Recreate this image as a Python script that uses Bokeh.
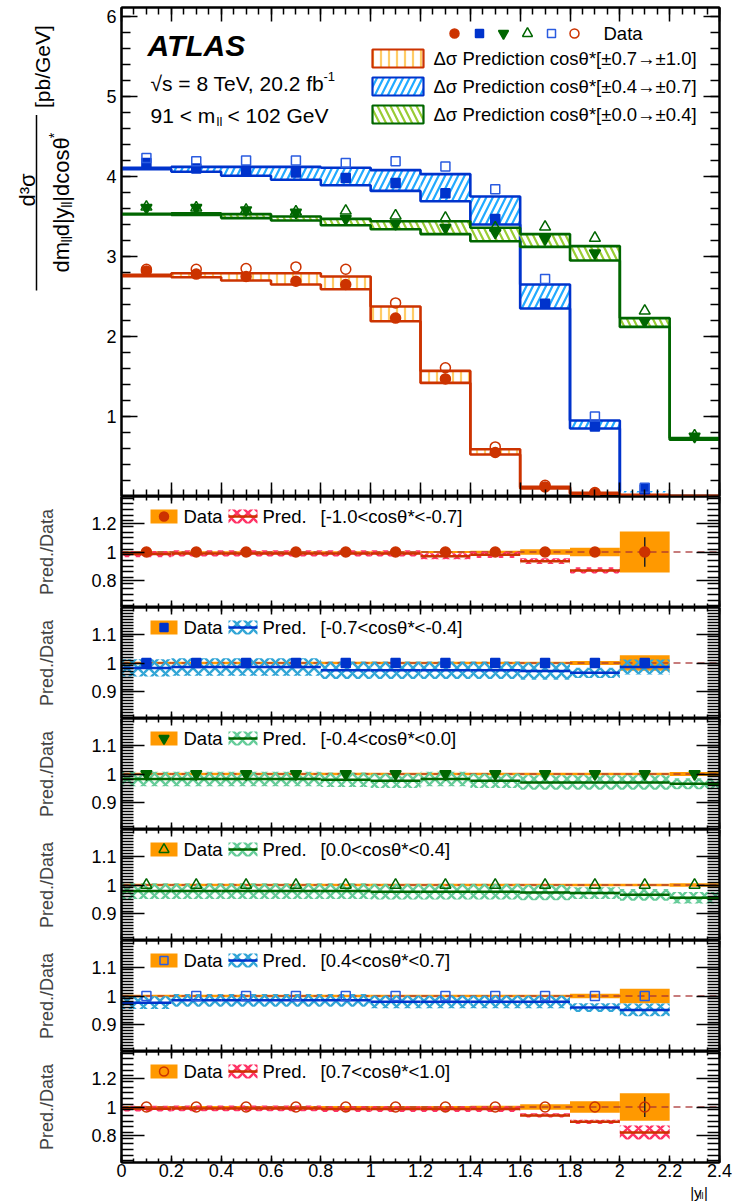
import numpy as np
from math import pi
from bokeh.plotting import figure
from bokeh.layouts import column, row
from bokeh.models import (Range1d, LinearAxis, FixedTicker, NumeralTickFormatter, Label,
                          CustomLabelingPolicy)
from bokeh.embed import file_html
from bokeh.resources import INLINE

FONT = "Liberation Sans"
nan = float("nan")

# ---------------- data ----------------
bin_edges = [0.0, 0.2, 0.4, 0.6, 0.8, 1.0, 1.2, 1.4, 1.6, 1.8, 2.0, 2.2, 2.4]

# main panel: Delta-sigma prediction bands (low / high)
pred_07_10_lo = [2.755, 2.74, 2.70, 2.65, 2.59, 2.19, 1.42, 0.525, 0.10, 0.035, 0.015, 0.005]
pred_07_10_hi = [2.77, 2.79, 2.79, 2.79, 2.75, 2.375, 1.57, 0.59, 0.12, 0.045, 0.02, 0.007]
pred_04_07_lo = [4.09, 4.06, 4.01, 3.96, 3.89, 3.82, 3.69, 3.40, 2.35, 0.85, 0.05, nan]
pred_04_07_hi = [4.11, 4.12, 4.12, 4.12, 4.11, 4.08, 4.03, 3.75, 2.65, 0.95, 0.07, nan]
pred_00_04_lo = [3.525, 3.52, 3.48, 3.45, 3.39, 3.34, 3.28, 3.19, 3.12, 2.95, 2.12, 0.71]
pred_00_04_hi = [3.535, 3.54, 3.53, 3.50, 3.47, 3.44, 3.44, 3.36, 3.28, 3.13, 2.23, 0.73]

# main panel: data points
data_m10_m07 = [2.82, 2.78, 2.75, 2.69, 2.65, 2.23, 1.47, 0.55, 0.12, 0.04, 0.015, nan]
data_07_10 = [2.84, 2.84, 2.85, 2.87, 2.84, 2.42, 1.61, 0.62, 0.14, 0.05, 0.02, nan]
data_m07_m04 = [4.17, 4.10, 4.075, 4.05, 3.98, 3.92, 3.79, 3.47, 2.41, 0.875, 0.09, nan]
data_04_07 = [4.23, 4.19, 4.20, 4.20, 4.17, 4.19, 4.125, 3.84, 2.72, 1.00, 0.11, nan]
data_m04_00 = [3.61, 3.61, 3.58, 3.55, 3.47, 3.41, 3.36, 3.30, 3.22, 3.04, 2.19, 0.75]
data_00_04 = [3.62, 3.61, 3.58, 3.56, 3.57, 3.51, 3.48, 3.36, 3.37, 3.23, 2.32, 0.76]

# ratio panels
ratio_labels = ["[-1.0<cos\u03b8*<-0.7]", "[-0.7<cos\u03b8*<-0.4]", "[-0.4<cos\u03b8*<0.0]",
                "[0.0<cos\u03b8*<0.4]", "[0.4<cos\u03b8*<0.7]", "[0.7<cos\u03b8*<1.0]"]
ratio_pred_1 = [0.985, 0.99, 0.99, 0.99, 0.99, 0.99, 0.97, 0.98, 0.935, 0.87, nan, nan]
ratio_pred_2 = [0.983, 0.986, 0.986, 0.986, 0.975, 0.975, 0.975, 0.975, 0.972, 0.966, 0.986, nan]
ratio_pred_3 = [0.983, 0.983, 0.983, 0.983, 0.98, 0.977, 0.983, 0.977, 0.971, 0.971, 0.971, 0.966]
ratio_pred_4 = [0.979, 0.979, 0.979, 0.979, 0.979, 0.977, 0.977, 0.977, 0.974, 0.972, 0.966, 0.956]
ratio_pred_5 = [0.977, 0.985, 0.985, 0.985, 0.985, 0.98, 0.98, 0.98, 0.98, 0.96, 0.952, nan]
ratio_pred_6 = [0.988, 0.99, 0.99, 0.99, 0.985, 0.985, 0.985, 0.985, 0.94, 0.895, 0.82, nan]
ratio_pred_unc_1 = [0.022, 0.022, 0.022, 0.022, 0.022, 0.022, 0.022, 0.022, 0.02, 0.022, nan, nan]
ratio_pred_unc_2 = [0.03, 0.03, 0.03, 0.03, 0.03, 0.03, 0.03, 0.03, 0.03, 0.018, 0.026, nan]
ratio_pred_unc_3 = [0.025, 0.025, 0.025, 0.025, 0.025, 0.025, 0.025, 0.025, 0.025, 0.025, 0.025, 0.019]
ratio_pred_unc_4 = [0.027, 0.027, 0.027, 0.027, 0.027, 0.027, 0.027, 0.027, 0.027, 0.02, 0.02, 0.02]
ratio_pred_unc_5 = [0.022, 0.022, 0.022, 0.022, 0.022, 0.022, 0.022, 0.022, 0.022, 0.015, 0.022, nan]
ratio_pred_unc_6 = [0.02, 0.02, 0.02, 0.02, 0.02, 0.02, 0.02, 0.02, 0.015, 0.015, 0.05, nan]
ratio_data_unc_1 = [0.006, 0.006, 0.006, 0.006, 0.006, 0.006, 0.007, 0.008, 0.02, 0.03, 0.145, nan]
ratio_data_unc_2 = [0.004, 0.004, 0.004, 0.004, 0.004, 0.004, 0.004, 0.004, 0.004, 0.007, 0.027, nan]
ratio_data_unc_3 = [0.004, 0.004, 0.004, 0.004, 0.004, 0.004, 0.004, 0.004, 0.004, 0.004, 0.004, 0.007]
ratio_data_unc_4 = [0.004, 0.004, 0.004, 0.004, 0.004, 0.004, 0.004, 0.004, 0.004, 0.004, 0.004, 0.006]
ratio_data_unc_5 = [0.004, 0.004, 0.004, 0.004, 0.004, 0.004, 0.004, 0.004, 0.004, 0.008, 0.025, nan]
ratio_data_unc_6 = [0.007, 0.007, 0.007, 0.007, 0.007, 0.007, 0.007, 0.008, 0.02, 0.04, 0.097, nan]
ratio_stat_1 = [0, 0, 0, 0, 0, 0, 0, 0, 0, 0, 0.105, nan]
ratio_stat_6 = [0, 0, 0, 0, 0, 0, 0, 0, 0, 0, 0.07, nan]

# ticks
x_ticks = [0, 0.2, 0.4, 0.6, 0.8, 1.0, 1.2, 1.4, 1.6, 1.8, 2.0, 2.2, 2.4]
main_y_ticks = [1, 2, 3, 4, 5, 6]
ratio_y_ticks_wide = [0.8, 1.0, 1.2]
ratio_y_ticks_narrow = [0.9, 1.0, 1.1]

# ---------------- colours ----------------
C_RED = "#cc3300"
C_BLUE = "#0033cc"
C_BLUE_OPEN = "#2a5be0"
C_GREEN = "#006600"
C_ORANGE = "#ff9900"
H_ORANGE = "#ffcc66"
H_BLUE = "#22aaff"
H_GREEN = "#99cc33"
X_RED = "#ff3366"
X_BLUE = "#33a6d6"
X_GREEN = "#66cc99"

# ---------------- layout (page pixels) ----------------
PAGE_W = 734
FRAME_L, FRAME_R = 121, 719
FW = FRAME_R - FRAME_L
TITLE_W = 80
MAIN_TOP, MAIN_BOT = 7, 496
PANEL_H = 111
BOTTOM_AXIS = 21
STRIP_H = 19
MAIN_YR = (0.0, (MAIN_BOT - MAIN_TOP) / 80.0)
WIDE_YR = (0.608, 1.392)
NARROW_YR = (0.8085, 1.1915)

left = np.array(bin_edges[:-1])
right = np.array(bin_edges[1:])
centers = (left + right) / 2
x_minor = [round(v, 3) for v in np.arange(0, 2.4001, 0.05)]

NO_LABELS = CustomLabelingPolicy(code="""
for (const i of Array.from(indices)) {
  if (typeof indices.unset === "function") { indices.unset(i) } else { indices.set(i, false) }
}
return indices
""")


def fx(px):
    return (px - FRAME_L) / FW * 2.4


def make_fy(top, h, yr):
    return lambda py: yr[1] - (py - top) / h * (yr[1] - yr[0])


def make_fig(width, height, yr, bl, bt, bb):
    p = figure(width=width, height=height, x_range=Range1d(0, 2.4), y_range=Range1d(*yr),
               x_axis_type=None, y_axis_type=None, output_backend="svg", toolbar_location=None,
               min_border_left=bl, min_border_right=PAGE_W - FRAME_R, min_border_top=bt,
               min_border_bottom=bb)
    p.outline_line_color = "black"
    p.outline_line_width = 2
    p.background_fill_color = "white"
    p.border_fill_color = "white"
    return p


def add_axes(p, yticks, yminor, xmaj, xmin, ymaj, ymin, xlabels, ylabel=None):
    for side, ticks, minor, maj, mn, lab in [
            ("below", x_ticks, x_minor, xmaj, xmin, xlabels),
            ("above", x_ticks, x_minor, xmaj, xmin, False),
            ("left", yticks, yminor, ymaj, ymin, True),
            ("right", yticks, yminor, ymaj, ymin, False)]:
        ax = LinearAxis(ticker=FixedTicker(ticks=ticks, minor_ticks=minor),
                        formatter=NumeralTickFormatter(format="0.[0]"))
        ax.axis_line_width = 2
        ax.axis_line_color = "black"
        ax.major_tick_in = maj
        ax.major_tick_out = 0
        ax.minor_tick_in = mn
        ax.minor_tick_out = 0
        ax.major_tick_line_width = 1.5
        ax.minor_tick_line_width = 1.5
        if lab:
            ax.major_label_text_font = FONT
            ax.major_label_text_font_size = "18px"
            ax.major_label_text_color = "black"
            ax.major_label_standoff = 5 if side == "left" else 1
        else:
            ax.major_label_text_font_size = "0px"
            ax.major_label_standoff = 0
            ax.major_label_policy = NO_LABELS
        if side == "left" and ylabel:
            ax.axis_label = ylabel
            ax.axis_label_text_font = FONT
            ax.axis_label_text_font_size = "18px"
            ax.axis_label_text_font_style = "normal"
            ax.axis_label_standoff = 31
        p.add_layout(ax, side)


def text(p, x, y, t, size, align="left", baseline="middle", style="normal", color="black", angle=0):
    p.add_layout(Label(x=x, y=y, text=t, text_font=FONT, text_font_size=size, text_align=align,
                       text_baseline=baseline, text_font_style=style, text_color=color, angle=angle))


def blank_fig(width, height, x0, x1, ytop, ybot):
    f = figure(width=width, height=height, x_range=Range1d(x0, x1), y_range=Range1d(ybot, ytop),
               x_axis_type=None, y_axis_type=None, output_backend="svg", toolbar_location=None,
               min_border=0)
    f.outline_line_color = None
    f.background_fill_color = "white"
    f.border_fill_color = "white"
    return f


# ---------------- y-title (page pixel coordinates) ----------------
pt = blank_fig(TITLE_W, MAIN_BOT, 0, TITLE_W, 0, MAIN_BOT)
text(pt, 27, 185, "d\u00b3\u03c3", "22px", align="center", baseline="alphabetic", angle=pi / 2)
pt.segment(x0=[36], y0=[109], x1=[36], y1=[287], line_color="black", line_width=1.5)
den_parts = [("dm", 22, 0, 1.389), ("ll", 14, 5, 0.444), ("d|y", 22, 0, 1.316),
             ("ll", 14, 5, 0.444), ("|dcos\u03b8", 22, 0, 2.928), ("*", 14, -8, 0.389)]
den_len = sum(s * w for _, s, _, w in den_parts)
ypos = 198 + den_len / 2
for t, s, dx, wem in den_parts:
    text(pt, 61 + dx, ypos, t, "%dpx" % s, align="left", baseline="alphabetic", angle=pi / 2)
    ypos -= s * wem
text(pt, 42, 102, "[pb/GeV]", "21px", align="left", baseline="alphabetic", angle=pi / 2)

# ---------------- main panel ----------------
pm = make_fig(PAGE_W - TITLE_W, MAIN_BOT, MAIN_YR, FRAME_L - TITLE_W, MAIN_TOP, 0)
fy = make_fy(MAIN_TOP, MAIN_BOT - MAIN_TOP, MAIN_YR)
main_minor = [round(v, 3) for v in np.arange(0, 6.1, 0.2)]
add_axes(pm, main_y_ticks, main_minor, 14, 7, 16, 9, False)

bands = [(pred_07_10_lo, pred_07_10_hi, C_RED, H_ORANGE, "|", 8),
         (pred_04_07_lo, pred_04_07_hi, C_BLUE, H_BLUE, "/", 13),
         (pred_00_04_lo, pred_00_04_hi, C_GREEN, H_GREEN, "\\", 13)]
for lo, hi, lc, hc, pat, sc in bands:
    lo_a, hi_a = np.array(lo), np.array(hi)
    pm.quad(left=left, right=right, bottom=lo_a, top=hi_a, fill_color=None, line_color=None,
            hatch_pattern=pat, hatch_color=hc, hatch_scale=sc, hatch_weight=2.2)
    for arr in (lo_a, hi_a):
        pm.step(x=bin_edges, y=list(arr) + [arr[-1]], mode="after", line_color=lc, line_width=2.6)

markers = [(data_m10_m07, "circle", C_RED, True, 10),
           (data_07_10, "circle", C_RED, False, 10),
           (data_m07_m04, "square", C_BLUE, True, 9),
           (data_04_07, "square", C_BLUE_OPEN, False, 9),
           (data_m04_00, "inverted_triangle", C_GREEN, True, 11),
           (data_00_04, "triangle", C_GREEN, False, 11)]
for vals, mk, col, filled, sz in markers:
    pm.scatter(x=centers, y=np.array(vals), marker=mk, size=sz, line_color=col, line_width=1.5,
               fill_color=col if filled else None)

# legend (main)
leg_mk_x = [454, 479, 503, 527, 551, 574]
order = [0, 2, 4, 5, 3, 1]
for i, px in zip(order, leg_mk_x):
    vals, mk, col, filled, sz = markers[i]
    pm.scatter(x=[fx(px)], y=[fy(33)], marker=mk, size=sz - 1, line_color=col, line_width=1.5,
               fill_color=col if filled else None)
text(pm, fx(603), fy(33), "Data", "18.5px")
leg_rows = [58, 86, 114]
leg_txt = ["\u0394\u03c3 Prediction cos\u03b8*[\u00b10.7\u2192\u00b11.0]",
           "\u0394\u03c3 Prediction cos\u03b8*[\u00b10.4\u2192\u00b10.7]",
           "\u0394\u03c3 Prediction cos\u03b8*[\u00b10.0\u2192\u00b10.4]"]
for (lo, hi, lc, hc, pat, sc), yc, t in zip(bands, leg_rows, leg_txt):
    pm.quad(left=[fx(372)], right=[fx(423)], bottom=[fy(yc + 9)], top=[fy(yc - 9)], fill_color=None,
            line_color=lc, line_width=2.2, hatch_pattern=pat, hatch_color=hc, hatch_scale=sc,
            hatch_weight=2.2)
    text(pm, fx(433), fy(yc), t, "18.5px")

text(pm, fx(147), fy(45), "ATLAS", "30px", style="bold italic")
text(pm, fx(150), fy(83), "\u221as = 8 TeV, 20.2 fb", "21px")
text(pm, fx(323), fy(76), "-1", "13px")
text(pm, fx(150), fy(115), "91 < m", "21px")
text(pm, fx(216), fy(121), "ll", "13px")
text(pm, fx(227), fy(115), "< 102 GeV", "21px")

figs = [row(pt, pm, spacing=0)]

# ---------------- ratio panels ----------------
ratio_sets = [
    (ratio_pred_1, ratio_pred_unc_1, ratio_data_unc_1, ratio_stat_1, 0, C_RED, X_RED, WIDE_YR),
    (ratio_pred_2, ratio_pred_unc_2, ratio_data_unc_2, None, 2, C_BLUE, X_BLUE, NARROW_YR),
    (ratio_pred_3, ratio_pred_unc_3, ratio_data_unc_3, None, 4, C_GREEN, X_GREEN, NARROW_YR),
    (ratio_pred_4, ratio_pred_unc_4, ratio_data_unc_4, None, 5, C_GREEN, X_GREEN, NARROW_YR),
    (ratio_pred_5, ratio_pred_unc_5, ratio_data_unc_5, None, 3, C_BLUE, X_BLUE, NARROW_YR),
    (ratio_pred_6, ratio_pred_unc_6, ratio_data_unc_6, ratio_stat_6, 1, C_RED, X_RED, WIDE_YR),
]
for k, (pred, punc, dunc, stat, mi, lc, xc, yr) in enumerate(ratio_sets):
    last = k == len(ratio_sets) - 1
    p = make_fig(PAGE_W, PANEL_H + (BOTTOM_AXIS if last else 0), yr, FRAME_L, 0,
                 BOTTOM_AXIS if last else 0)
    top = MAIN_BOT + k * PANEL_H
    fyr = make_fy(top, PANEL_H, yr)
    if yr == WIDE_YR:
        yt = ratio_y_ticks_wide
        ym = [round(v, 3) for v in np.arange(0.62, 1.39, 0.04)]
    else:
        yt = ratio_y_ticks_narrow
        ym = [round(v, 3) for v in np.arange(0.81, 1.19, 0.01)]
    add_axes(p, yt, ym, 7, 4, 23, 12, last, ylabel="Pred./Data")

    dvals, mk, col, filled, sz = markers[mi]
    d = np.array(dvals)
    has = ~np.isnan(d)
    ones = np.where(has, 1.0, nan)
    du = np.array(dunc)
    p.quad(left=left[has], right=right[has], bottom=(ones - du)[has], top=(ones + du)[has],
           fill_color=C_ORANGE, line_color=None)
    p.line(x=[x_ticks[0], x_ticks[-1]], y=[1, 1], line_color="#a83232", line_width=1.5,
           line_dash="7 5", line_alpha=0.85)
    pr = np.array(pred)
    pu = np.array(punc)
    ok = ~np.isnan(pr)
    p.quad(left=left[ok], right=right[ok], bottom=(pr - pu)[ok], top=(pr + pu)[ok], fill_color=None,
           line_color=None, hatch_pattern="x", hatch_color=xc, hatch_scale=11, hatch_weight=2.5)
    p.segment(x0=left[ok], y0=pr[ok], x1=right[ok], y1=pr[ok], line_color=lc, line_width=2.5)
    if stat is not None:
        st = np.array(stat)
        sel = has & (st > 0)
        p.segment(x0=centers[sel], y0=(ones - st)[sel], x1=centers[sel], y1=(ones + st)[sel],
                  line_color="#222222", line_width=1.5)
    p.scatter(x=centers[has], y=ones[has], marker=mk, size=sz, line_color=col, line_width=1.5,
              fill_color=col if filled else None)

    # legend
    yc = top + 20
    p.quad(left=[fx(150)], right=[fx(177)], bottom=[fyr(yc + 7)], top=[fyr(yc - 7)],
           fill_color=C_ORANGE, line_color=None)
    p.scatter(x=[fx(163.5)], y=[fyr(yc)], marker=mk, size=sz - 1, line_color=col, line_width=1.5,
              fill_color=col if filled else None)
    text(p, fx(183), fyr(yc), "Data", "18.5px")
    p.quad(left=[fx(228)], right=[fx(257)], bottom=[fyr(yc + 7)], top=[fyr(yc - 7)], fill_color=None,
           line_color=None, hatch_pattern="x", hatch_color=xc, hatch_scale=11, hatch_weight=2.5)
    p.segment(x0=[fx(228)], y0=[fyr(yc)], x1=[fx(257)], y1=[fyr(yc)], line_color=lc, line_width=2.5)
    text(p, fx(262), fyr(yc), "Pred.", "18.5px")
    text(p, fx(320), fyr(yc), ratio_labels[k], "18.5px")
    figs.append(p)

# x-axis title strip (page pixel coordinates)
strip_top = MAIN_BOT + 6 * PANEL_H + BOTTOM_AXIS
ps = blank_fig(PAGE_W, STRIP_H, 0, PAGE_W, strip_top, strip_top + STRIP_H)
text(ps, 698, strip_top + 9, "|y", "15px", baseline="middle")
text(ps, 709.5, strip_top + 12, "ll", "9px", baseline="middle")
text(ps, 715, strip_top + 9, "|", "15px", baseline="middle")
figs.append(ps)

layout = column(*figs, spacing=0)
open("out.html", "w").write(file_html(layout, INLINE))
